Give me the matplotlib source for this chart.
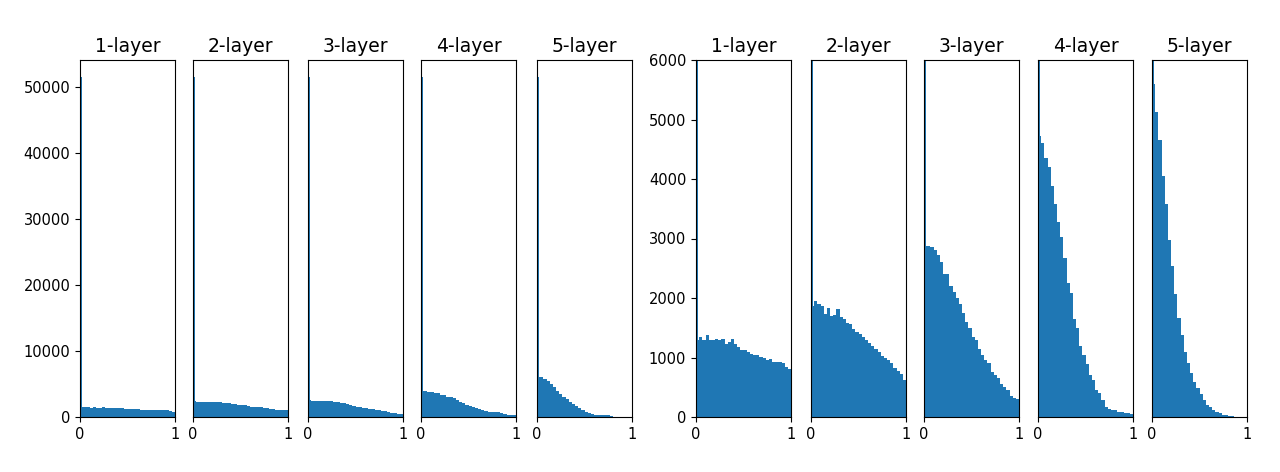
import numpy as np
from matplotlib import pyplot as plt

titles = ["1-layer", "2-layer", "3-layer", "4-layer", "5-layer"]

# count of exact zeros (narrow spike at x=0)
zero_count = 51500

# left group: 30 bins over (0, 1)
left_counts = [
    [1550, 1560, 1500, 1350, 1520, 1380, 1350, 1540, 1330, 1320, 1310, 1300, 1300, 1290, 1280,
     1280, 1270, 1260, 1250, 1100, 1080, 1070, 1060, 1050, 1040, 1030, 1020, 1010, 980, 800],
    [2350, 2340, 2330, 2310, 2300, 2290, 2270, 2250, 2220, 2100, 2080, 2060, 2040, 2000, 1850,
     1800, 1750, 1620, 1580, 1550, 1500, 1450, 1350, 1300, 1280, 1220, 1100, 1060, 1040, 1000],
    [2500, 2490, 2480, 2470, 2460, 2450, 2430, 2400, 2250, 2200, 2100, 2060, 2020, 1820, 1650,
     1580, 1520, 1400, 1330, 1280, 1200, 1100, 1050, 980, 850, 780, 620, 560, 520, 480],
    [4000, 3980, 3840, 3820, 3600, 3580, 3330, 3300, 3080, 3050, 2830, 2580, 2300, 2070, 1820,
     1600, 1550, 1300, 1150, 1000, 950, 800, 780, 760, 700, 550, 400, 350, 300, 280],
    [6100, 6050, 5700, 5500, 5000, 4500, 4000, 3500, 3100, 2700, 2300, 1950, 1650, 1300, 1060,
     820, 650, 460, 330, 300, 280, 260, 240, 220, 60, 40, 20, 10, 5, 0],
]

# right group: same layout, zoomed to 0..6000
right_counts = [
    [1290, 1340, 1290, 1370, 1290, 1290, 1315, 1290, 1315, 1230, 1260, 1315, 1230, 1180, 1130,
     1120, 1090, 1060, 1050, 1040, 1010, 990, 950, 980, 925, 920, 920, 900, 840, 810],
    [1870, 1950, 1900, 1870, 1730, 1840, 1700, 1720, 1820, 1680, 1640, 1580, 1560, 1480, 1430,
     1400, 1340, 1290, 1240, 1200, 1140, 1100, 1030, 1000, 950, 900, 830, 780, 720, 620],
    [2880, 2880, 2850, 2800, 2720, 2600, 2400, 2400, 2200, 2100, 2000, 1900, 1750, 1600, 1500,
     1350, 1300, 1150, 1050, 950, 900, 750, 700, 650, 550, 500, 450, 350, 320, 300],
    [4720, 4600, 4360, 4210, 3890, 3580, 3280, 3020, 2680, 2250, 2090, 1650, 1500, 1190, 1040,
     890, 700, 620, 450, 400, 280, 170, 130, 120, 110, 90, 80, 70, 60, 50],
    [5600, 5120, 4660, 4050, 3580, 2980, 2530, 2070, 1660, 1380, 1090, 900, 740, 590, 490,
     380, 290, 210, 170, 120, 85, 60, 40, 30, 20, 10, 5, 3, 0, 0],
]

edges = np.linspace(0, 1, 31)
W, H = 1280, 472

fig = plt.figure(figsize=(12.8, 4.72), dpi=100)

left_x = [80, 193, 308, 421, 537]
right_x = [696, 811, 924, 1038, 1152]
ax_w = 95
top, bottom = 60, 417


def draw_panel(x0, counts, title, first, zoom):
    ax = fig.add_axes([x0 / W, 1 - bottom / H, ax_w / W, (bottom - top) / H])
    ax.hist(edges[:-1], bins=edges, weights=counts, color='#1f77b4')
    ax.hist([0], bins=[0, 0.02], weights=[zero_count], color='#1f77b4')
    ax.set_xlim(0, 1)
    ax.set_xticks([0, 1])
    if zoom:
        ax.set_ylim(0, 6000)
    else:
        ax.set_ylim(0, zero_count * 1.05)
    if not first:
        ax.set_yticks([])
    ax.set_title(title, fontsize=13.5)
    ax.tick_params(labelsize=10.5)
    return ax


for i in range(5):
    draw_panel(left_x[i], left_counts[i], titles[i], i == 0, False)
    draw_panel(right_x[i], right_counts[i], titles[i], i == 0, True)

fig.savefig("out.png", dpi=100)
